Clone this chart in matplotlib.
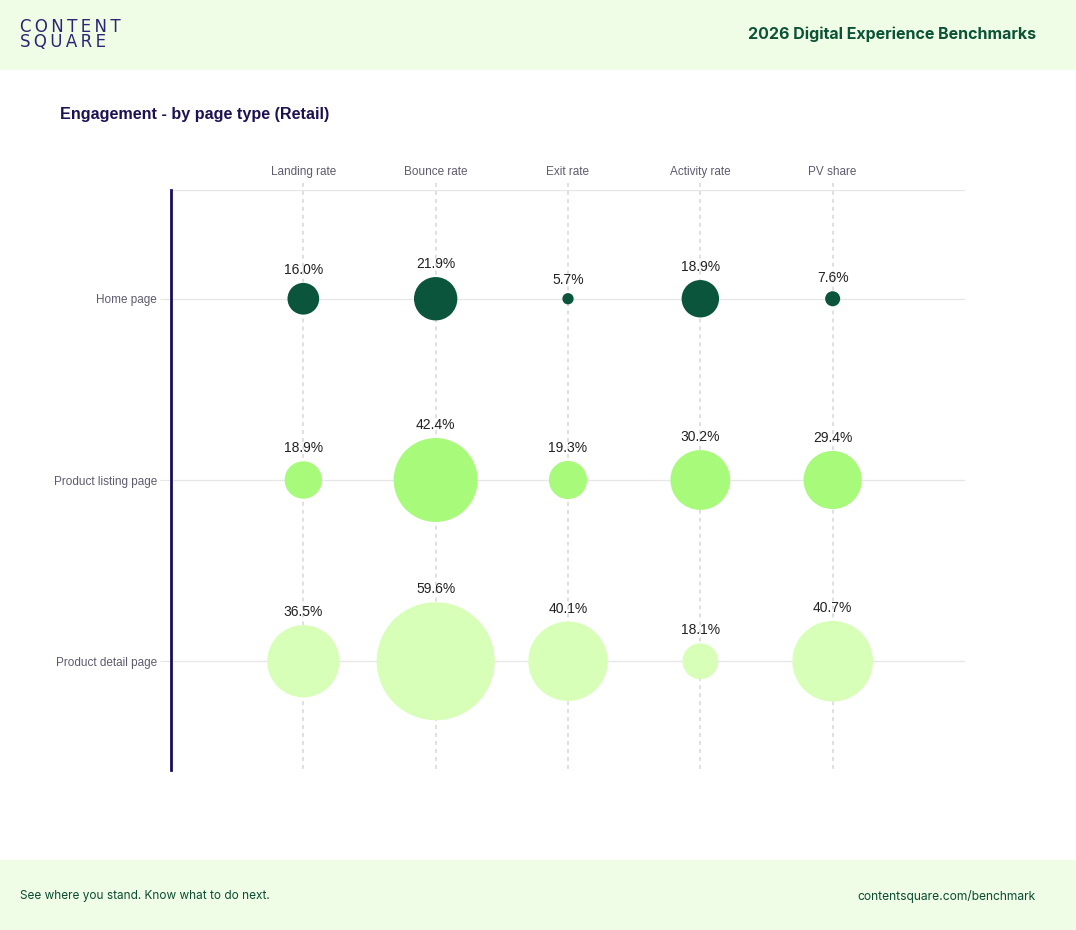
import numpy as np
import matplotlib
matplotlib.use("Agg")
import matplotlib.pyplot as plt
from matplotlib.patches import Rectangle

# data
metrics = ["Landing rate", "Bounce rate", "Exit rate", "Activity rate", "PV share"]
pages = ["Home page", "Product listing page", "Product detail page"]
home = [16.0, 21.9, 5.7, 18.9, 7.6]
listing = [18.9, 42.4, 19.3, 30.2, 29.4]
detail = [36.5, 59.6, 40.1, 18.1, 40.7]
values = [home, listing, detail]
page_colors = ["#0a553c", "#a8fb7a", "#d8ffb8"]

W, H, DPI = 1076, 930, 100
fig = plt.figure(figsize=(W / DPI, H / DPI), dpi=DPI)
fig.patch.set_facecolor("white")

# header / footer bands
fig.add_artist(Rectangle((0, 1 - 70 / H), 1, 70 / H, transform=fig.transFigure,
                         facecolor="#f0fde6", edgecolor="none", zorder=0))
fig.add_artist(Rectangle((0, 0), 1, 70 / H, transform=fig.transFigure,
                         facecolor="#f0fde6", edgecolor="none", zorder=0))

def fx(px):
    return px / W

def fy(py):
    return 1 - py / H

# logo, letter-spaced, two lines in one text
logo = "\n".join("\u2009".join(w) for w in ["CONTENT", "SQUARE"])
fig.text(fx(20), fy(34.5), logo, fontsize=12, color="#2b2573", family="DejaVu Sans",
         va="center", ha="left", linespacing=0.82)
fig.text(fx(1036), fy(34), "2026 Digital Experience Benchmarks", fontsize=11.5,
         color="#0b5237", family="Inter", weight="bold", ha="right", va="center")
fig.text(fx(20), fy(896), "See where you stand. Know what to do next.", fontsize=8.5,
         color="#0b4a33", family="Inter", ha="left", va="center")
fig.text(fx(1036), fy(896), "contentsquare.com/benchmark", fontsize=8.7,
         color="#0b4a33", family="Inter", ha="right", va="center")
fig.text(fx(60), fy(115), "Engagement - by page type (Retail)", fontsize=11.6,
         color="#1e1150", family="Liberation Sans", weight="bold", ha="left", va="center")

# plot area: x 171..965, y 190..770
ax = fig.add_axes([fx(171), fy(770), (965 - 171) / W, (770 - 190) / H])
ax.set_xlim(-1, 5)
ax.set_ylim(2.6, -0.6)
ax.set_facecolor("none")

px_per_unit = 1.98  # bubble diameter in pixels per percentage point
for r, row in enumerate(values):
    xs = np.arange(len(metrics))
    ys = np.full(len(metrics), r)
    d_pt = np.array(row) * px_per_unit * 72 / DPI
    ax.scatter(xs, ys, s=d_pt ** 2, color=page_colors[r], edgecolors="none", zorder=3)
    for x, v in zip(xs, row):
        top_px = v * px_per_unit / 2
        ax.annotate(f"{v:.1f}%", (x, r), xytext=(0, (top_px + 13) * 72 / DPI),
                    textcoords="offset points", ha="center", va="center",
                    fontsize=10, color="#222222", family="Liberation Sans", zorder=4)

# grid lines
for x in range(len(metrics)):
    ax.plot([x, x], [-0.639, 2.6], color="#e0e0e0", lw=1.4, ls=(0, (2.0, 2.1)),
            zorder=1, clip_on=False)
for y in range(len(pages)):
    ax.axhline(y, color="#e6e6e6", lw=0.9, zorder=1)
ax.axhline(-0.6, color="#e6e6e6", lw=0.9, zorder=1)

ax.set_xticks(range(len(metrics)))
ax.set_xticklabels(metrics)
ax.xaxis.tick_top()
ax.tick_params(axis="x", length=0, pad=9, labelsize=8.5, labelcolor="#5f5a6e")
ax.set_yticks(range(len(pages)))
ax.set_yticklabels(pages)
ax.tick_params(axis="y", length=8, width=0.8, color="#e6e6e6", pad=2,
               labelsize=8.5, labelcolor="#5f5a6e")
for lab in ax.get_xticklabels() + ax.get_yticklabels():
    lab.set_family("Liberation Sans")

for side in ["top", "right", "bottom"]:
    ax.spines[side].set_visible(False)
ax.spines["left"].set_color("#1a0f5c")
ax.spines["left"].set_linewidth(2)

fig.savefig("out.png", dpi=DPI)
